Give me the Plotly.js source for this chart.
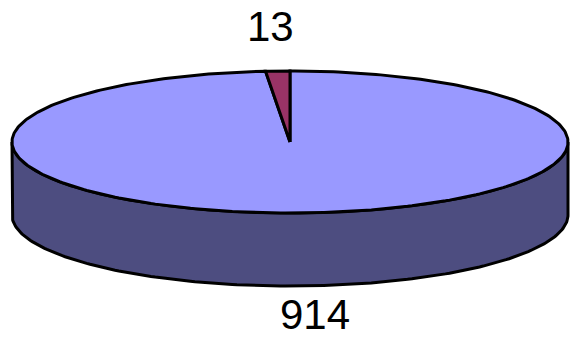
<!DOCTYPE html>
<html>
<head>
<meta charset="utf-8">
<script src="https://cdn.plot.ly/plotly-3.0.1.min.js"></script>
<style>html,body{margin:0;padding:0;background:#fff;}#chart{width:570px;height:342px;}</style>
</head>
<body>
<div id="chart"></div>
<script>
// ---- data ----
const labels = ["914", "13"];
const values = [914, 13];
const topColors = ["#9999FF", "#993366"];
const sideColors = ["#4D4D80", "#4D1A33"];

// ---- geometry (layout, pixel space) ----
const cx = 290, cy = 142, rx = 278, ry = 71, depth = 73;
const total = values.reduce((a, b) => a + b, 0);

function pt(thetaDeg, dy) {
  const t = thetaDeg * Math.PI / 180;
  return [cx + rx * Math.sin(t), cy - ry * Math.cos(t) + (dy || 0)];
}
function arc(a0, a1, dy) {
  const n = Math.max(2, Math.ceil(Math.abs(a1 - a0) / 1));
  const xs = [], ys = [];
  for (let i = 0; i <= n; i++) {
    const p = pt(a0 + (a1 - a0) * i / n, dy);
    xs.push(p[0]); ys.push(p[1]);
  }
  return [xs, ys];
}

const traces = [];
const annotations = [];
let start = 0;
const slices = values.map((v, i) => {
  const a0 = start, a1 = start + v / total * 360;
  start = a1;
  return { a0, a1, i };
});

// side faces (visible front half: theta 90..270)
slices.forEach(s => {
  const lo = Math.max(s.a0, 90), hi = Math.min(s.a1, 270);
  if (hi <= lo) return;
  const [tx, ty] = arc(lo, hi, 0);
  const [bx, by] = arc(hi, lo, depth);
  traces.push({
    type: "scatter", mode: "lines", x: tx.concat(bx, [tx[0]]), y: ty.concat(by, [ty[0]]),
    fill: "toself", fillcolor: sideColors[s.i], line: { color: "#000", width: 3, shape: "linear" },
    hoverinfo: "skip"
  });
});

// top faces
slices.forEach(s => {
  const [ax, ay] = arc(s.a0, s.a1, 0);
  traces.push({
    type: "scatter", mode: "lines", x: [cx].concat(ax, [cx]), y: [cy].concat(ay, [cy]),
    fill: "toself", fillcolor: topColors[s.i], line: { color: "#000", width: 3 },
    hoverinfo: "skip"
  });
});

// labels
const labelOffsets = [[13, 53], [-7, -45]];
slices.forEach(s => {
  const mid = (s.a0 + s.a1) / 2;
  const p = pt(mid, 0);
  const front = Math.cos(mid * Math.PI / 180) < 0;
  annotations.push({
    x: p[0] + labelOffsets[s.i][0],
    y: p[1] + (front ? depth : 0) + labelOffsets[s.i][1],
    xref: "x", yref: "y", text: labels[s.i], showarrow: false,
    xanchor: "center", yanchor: front ? "bottom" : "middle", borderpad: 0,
    font: { family: "Liberation Sans, Arial, sans-serif", size: 42, color: "#000" }
  });
});

const layout = {
  width: 570, height: 342,
  margin: { l: 0, r: 0, t: 0, b: 0 },
  paper_bgcolor: "#fff", plot_bgcolor: "#fff",
  showlegend: false,
  xaxis: { range: [0, 570], visible: false, fixedrange: true },
  yaxis: { range: [342, 0], visible: false, fixedrange: true },
  annotations: annotations
};
Plotly.newPlot("chart", traces, layout, { displayModeBar: false, staticPlot: true });
</script>
</body>
</html>
